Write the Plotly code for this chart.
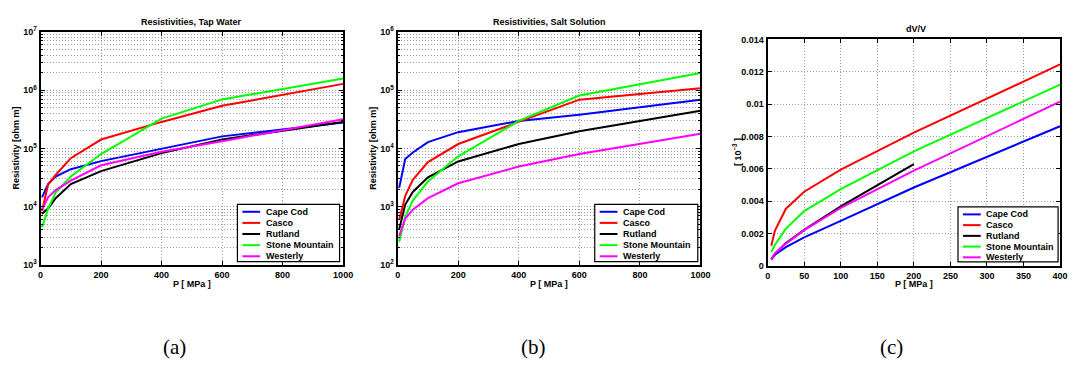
import plotly.graph_objects as go

W, H = 1074, 367

# ---- data -------------------------------------------------------------
names = ["Cape Cod", "Casco", "Rutland", "Stone Mountain", "Westerly"]
colors = ["#0000ff", "#ff0000", "#000000", "#00ff00", "#ff00ff"]

p_res = [5, 25, 50, 100, 200, 400, 600, 1000]          # MPa

tap_cape_cod = [14500, 24500, 33000, 44000, 60600, 100000, 161000, 278000]
tap_casco = [8450, 24000, 35000, 68000, 142000, 285000, 538000, 1280000]
tap_rutland = [7600, 9300, 14000, 24500, 40800, 83000, 142000, 285000]
tap_stone = [4420, 9250, 17400, 32900, 80000, 324000, 693000, 1580000]
tap_westerly = [8900, 14500, 19300, 27900, 51300, 87500, 133000, 316000]

salt_cape_cod = [2100, 6600, 8500, 12800, 19000, 29600, 37700, 68600]
salt_casco = [590, 1530, 2900, 5830, 11900, 28500, 68600, 108000]
salt_rutland = [405, 1090, 1790, 3200, 5980, 11900, 19700, 44400]
salt_stone = [250, 673, 1270, 2720, 7330, 29600, 80900, 197000]
salt_westerly = [314, 624, 890, 1400, 2520, 4880, 8000, 17800]

p_dv = [5, 10, 25, 50, 100, 200, 400]                   # MPa
p_dv_rutland = [5, 10, 25, 50, 100, 200]

dv_cape_cod = [0.00040, 0.00068, 0.00115, 0.00175, 0.00278, 0.00484, 0.00863]
dv_casco = [0.00124, 0.00218, 0.00353, 0.00458, 0.00594, 0.00823, 0.01245]
dv_rutland = [0.00040, 0.00075, 0.00140, 0.00222, 0.00367, 0.00628]
dv_stone = [0.00084, 0.00130, 0.00230, 0.00338, 0.00474, 0.00708, 0.01120]
dv_westerly = [0.00040, 0.00076, 0.00137, 0.00220, 0.00358, 0.00588, 0.01015]

tap = [tap_cape_cod, tap_casco, tap_rutland, tap_stone, tap_westerly]
salt = [salt_cape_cod, salt_casco, salt_rutland, salt_stone, salt_westerly]
dv = [dv_cape_cod, dv_casco, dv_rutland, dv_stone, dv_westerly]
dv_x = [p_dv, p_dv, p_dv_rutland, p_dv, p_dv]

# ---- helpers ----------------------------------------------------------
FONT = "Liberation Sans, Arial, Helvetica, sans-serif"
GRID_COLOR = "#9a9a9a"
GRID_DASH = "1px,2px"


def px(x):
    return x / W


def py(y):
    return 1 - y / H


fig = go.Figure()

for i in range(5):
    fig.add_trace(go.Scatter(x=p_res, y=tap[i], mode="lines", name=names[i],
                             line=dict(color=colors[i], width=2),
                             xaxis="x", yaxis="y", showlegend=False))
for i in range(5):
    fig.add_trace(go.Scatter(x=p_res, y=salt[i], mode="lines", name=names[i],
                             line=dict(color=colors[i], width=2),
                             xaxis="x2", yaxis="y2", showlegend=False))
for i in range(5):
    fig.add_trace(go.Scatter(x=dv_x[i], y=dv[i], mode="lines", name=names[i],
                             line=dict(color=colors[i], width=2),
                             xaxis="x3", yaxis="y3", showlegend=False))

tick_font = dict(family=FONT, size=9, color="black", weight="bold")
grid = dict(showgrid=True, gridcolor=GRID_COLOR, griddash=GRID_DASH, gridwidth=1)
axis_common = dict(showline=True, linecolor="black", linewidth=2, mirror="ticks",
                   ticks="inside", ticklen=4, tickcolor="black", tickwidth=1,
                   tickfont=tick_font, zeroline=False, **grid)


def log_axis(lo, hi, domain, anchor):
    vals = [10 ** k for k in range(lo, hi + 1)]
    text = ["10<sup>%d</sup>" % k for k in range(lo, hi + 1)]
    minor_vals = [m * 10 ** k for k in range(lo, hi) for m in range(2, 10)]
    return dict(type="log", range=[lo, hi], domain=domain, anchor=anchor,
                tickmode="array", tickvals=vals, ticktext=text,
                minor=dict(tickmode="array", tickvals=minor_vals, ticks="inside",
                           ticklen=2, tickcolor="black", showgrid=True,
                           gridcolor=GRID_COLOR, griddash=GRID_DASH, gridwidth=1),
                **axis_common)


ya_dom = [py(266.7), py(25.7)]
yc_dom = [py(267.5), py(33.5)]
xa_dom = [px(38), px(344.3)]
xb_dom = [px(399.5), px(706)]
xc_dom = [px(774), px(1070)]

fig.update_layout(
    width=W, height=H,
    margin=dict(l=0, r=0, t=0, b=0),
    paper_bgcolor="white", plot_bgcolor="white",
    showlegend=False,
    xaxis=dict(range=[0, 1000], domain=xa_dom, anchor="y", dtick=200, **axis_common),
    yaxis=log_axis(3, 7, ya_dom, "x"),
    xaxis2=dict(range=[0, 1000], domain=xb_dom, anchor="y2", dtick=200, **axis_common),
    yaxis2=log_axis(2, 6, ya_dom, "x2"),
    xaxis3=dict(range=[0, 400], domain=xc_dom, anchor="y3", dtick=50, **axis_common),
    yaxis3=dict(range=[0, 0.014], domain=yc_dom, anchor="x3", dtick=0.002,
                tickformat="~g", **axis_common),
)

annotations = []
shapes = []


def text_at(x, y, s, size=9, angle=0, family=FONT, weight="bold"):
    annotations.append(dict(x=px(x), y=py(y), xref="paper", yref="paper",
                            text=s, showarrow=False, textangle=angle,
                            xanchor="center", yanchor="middle",
                            font=dict(family=family, size=size, color="black",
                                      weight=weight)))


# titles
text_at(191, 15, "Resistivities, Tap Water")
text_at(553, 15, "Resistivities, Salt Solution")
text_at(924, 23, "dV/V")

# axis titles
for cx in (191, 553, 922):
    text_at(cx, 286.5, "P [ MPa ]")
text_at(13.5, 146, "Resistivity [ohm m]", angle=-90)
text_at(375, 146, "Resistivity [ohm m]", angle=-90)
text_at(743, 150, "[ 10<sup>−3</sup> ]", angle=-90)

# panel labels
SERIF = "Liberation Serif, DejaVu Serif, serif"
text_at(174, 352, "(a)", size=21, family=SERIF, weight="normal")
text_at(537, 352, "(b)", size=21, family=SERIF, weight="normal")
text_at(899, 352, "(c)", size=21, family=SERIF, weight="normal")


def legend_box(left, top, right, bottom, row_step):
    shapes.append(dict(type="rect", xref="paper", yref="paper",
                       x0=px(left), x1=px(right), y0=py(bottom), y1=py(top),
                       line=dict(color="black", width=1.2), fillcolor="white",
                       layer="above"))
    for i, (nm, col) in enumerate(zip(names, colors)):
        yc = top + 7.7 + i * row_step
        shapes.append(dict(type="line", xref="paper", yref="paper",
                           x0=px(left + 5), x1=px(left + 23), y0=py(yc), y1=py(yc),
                           line=dict(color=col, width=2), layer="above"))
        annotations.append(dict(x=px(left + 26.5), y=py(yc), xref="paper",
                                yref="paper", text=nm, showarrow=False,
                                xanchor="left", yanchor="middle",
                                font=dict(family=FONT, size=9, color="black",
                                          weight="bold")))


legend_box(237.3, 204, 340.7, 263.3, 11.5)
legend_box(599, 204, 703.3, 263.3, 11.5)
legend_box(966.7, 206.7, 1068, 263.5, 11.1)

fig.update_layout(annotations=annotations, shapes=shapes)

fig.write_html("out.html")
